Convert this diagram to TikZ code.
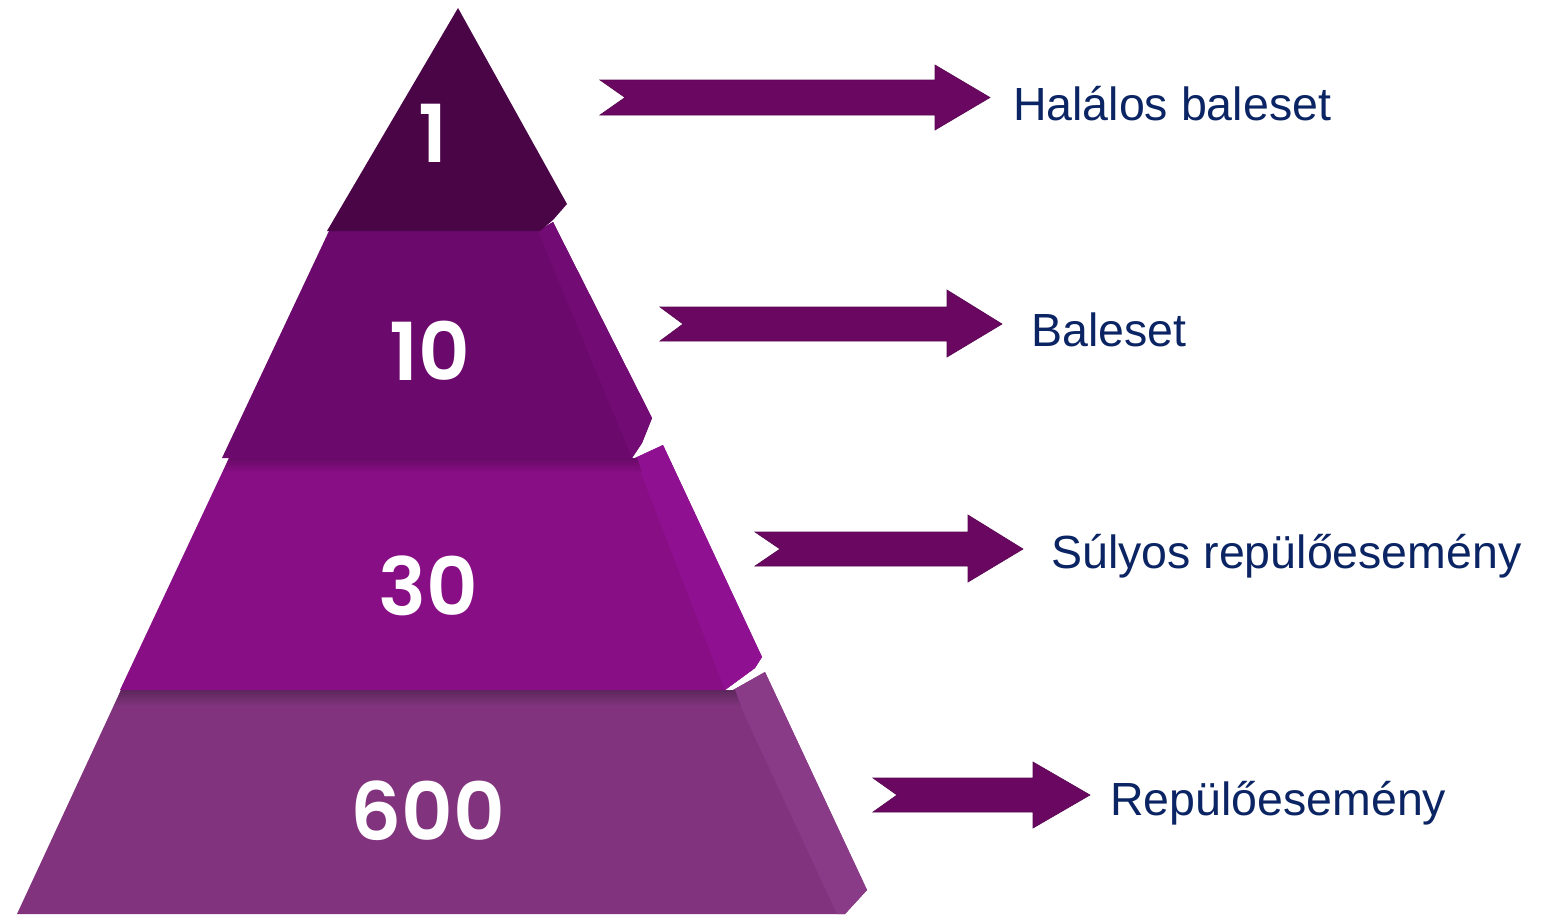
\documentclass[tikz,border=0pt]{standalone}
\usepackage{fontspec}
\setmainfont{Liberation Sans}
\newfontfamily\numfont{Poppins}[BoldFont={Poppins SemiBold}]
\definecolor{tonefront}{HTML}{4A0547}
\definecolor{ttwofront}{HTML}{6B096D}
\definecolor{ttwoside}{HTML}{720C74}
\definecolor{tthreefront}{HTML}{870E84}
\definecolor{tthreeside}{HTML}{8F1191}
\definecolor{tthreeband}{HTML}{680A66}
\definecolor{tfourfront}{HTML}{81347D}
\definecolor{tfourside}{HTML}{8A3B88}
\definecolor{tfourband}{HTML}{5C275B}
\definecolor{arrowcol}{HTML}{6A0861}
\definecolor{labelcol}{HTML}{0B2463}
\begin{document}
\begin{tikzpicture}[x=1pt,y=-1pt,
  numtext/.style={inner sep=0pt,text=white,font=\numfont\bfseries\fontsize{80}{80}\selectfont},
  labeltext/.style={inner sep=0pt,anchor=base west,text=labelcol,font=\fontsize{46.5}{46.5}\selectfont},
  arrowshape/.style={fill=arrowcol,draw=arrowcol!85!black,line width=0.6pt,line join=miter}]
\useasboundingbox (0,0) rectangle (1549,914);
\fill[white] (0,0) rectangle (1549,914);

% tier 4
\fill[tfourfront] (121,690) -- (733,690) -- (765,672) -- (867,890) -- (845,914) -- (17,914) -- cycle;
\fill[tfourside] (733,690) -- (765,672) -- (867,890) -- (845,914) -- (837,914) -- cycle;
\shade[top color=tfourband,bottom color=tfourfront] (121,690) -- (735,690) -- (741,706) -- (114,706) -- cycle;

% tier 3
\fill[tthreefront] (229,458) -- (635,458) -- (663,445) -- (762,657) -- (755,668) -- (725,690) -- (120,690) -- cycle;
\fill[tthreeside] (635,458) -- (663,445) -- (762,657) -- (755,668) -- (725,690) -- cycle;
\shade[top color=tthreeband,bottom color=tthreefront] (229,458) -- (637,458) -- (642,472) -- (223,472) -- cycle;

% tier 2
\fill[ttwofront] (329,231) -- (538,231) -- (553,222) -- (652,418) -- (642,443) -- (632,458) -- (222,458) -- cycle;
\fill[ttwoside] (538,231) -- (553,222) -- (652,418) -- (642,443) -- (632,458) -- cycle;

% tier 1
\fill[tonefront] (458,8) -- (567,204) -- (553,220) -- (540,231) -- (327,231) -- cycle;

% numbers
\node[numtext] (n1) at (433,133) {1};
\node[numtext] (n10) at (430,351) {10};
\node[numtext] (n30) at (428,586) {30};
\node[numtext] (n600) at (428,811) {600};

% arrows
\fill[arrowshape] (600,80) -- (935,80) -- (935,65) -- (990,97.5) -- (935,130) -- (935,115) -- (600,115) -- (625,97.5) -- cycle;
\fill[arrowshape] (660,307) -- (947,307) -- (947,290) -- (1002,324) -- (947,357) -- (947,341) -- (660,341) -- (683,324) -- cycle;
\fill[arrowshape] (755,532) -- (968,532) -- (968,515) -- (1023,549) -- (968,582) -- (968,566) -- (755,566) -- (780,549) -- cycle;
\fill[arrowshape] (873,778) -- (1033,778) -- (1033,762) -- (1090,795) -- (1033,828) -- (1033,812) -- (873,812) -- (897,795) -- cycle;

% labels
\node[labeltext] (l1) at (1013,120) {Halálos baleset};
\node[labeltext] (l2) at (1031,346) {Baleset};
\node[labeltext] (l3) at (1051,568) {Súlyos repülőesemény};
\node[labeltext] (l4) at (1110,815) {Repülőesemény};
\end{tikzpicture}
\end{document}
